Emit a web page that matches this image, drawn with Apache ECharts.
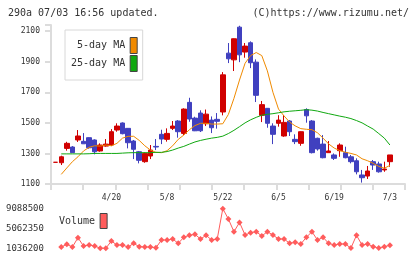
<!DOCTYPE html>
<html>
<head>
<meta charset="utf-8">
<script src="https://cdn.jsdelivr.net/npm/echarts@6/dist/echarts.min.js"></script>
<style>
html, body { margin: 0; padding: 0; background: #fff; }
#chart { width: 420px; height: 259px; }
</style>
</head>
<body>
<div id="chart"></div>
<script>
// trading days 2020/4/6 - 2020/7/3
var dates = ['4/6','4/7','4/8','4/9','4/10','4/13','4/14','4/15','4/16','4/17',
  '4/20','4/21','4/22','4/23','4/24','4/27','4/28','4/30','5/1','5/7',
  '5/8','5/11','5/12','5/13','5/14','5/15','5/18','5/19','5/20','5/21',
  '5/22','5/25','5/26','5/27','5/28','5/29','6/1','6/2','6/3','6/4',
  '6/5','6/8','6/9','6/10','6/11','6/12','6/15','6/16','6/17','6/18',
  '6/19','6/22','6/23','6/24','6/25','6/26','6/29','6/30','7/1','7/2','7/3'];

var opens = [1242,1239,1333,1342,1388,1379,1403,1388,1316,1348,
  1355,1453,1499,1464,1381,1311,1246,1283,1346,1425,
  1392,1464,1512,1431,1634,1531,1564,1494,1518,1523,
  1571,1956,1912,2126,1963,2024,1897,1549,1595,1479,
  1497,1414,1512,1392,1366,1587,1512,1399,1361,1305,
  1290,1318,1305,1278,1252,1159,1152,1246,1231,1192,1246];
var closes = [1242,1278,1366,1305,1414,1363,1337,1311,1355,1361,
  1442,1479,1429,1370,1327,1255,1300,1322,1342,1394,
  1431,1479,1442,1590,1525,1448,1448,1557,1468,1510,
  1814,1919,2050,1945,2002,1893,1680,1619,1497,1425,
  1518,1503,1442,1377,1442,1546,1305,1329,1272,1316,
  1268,1355,1272,1246,1180,1141,1185,1224,1180,1198,1290];
var lows = [1242,1224,1318,1305,1375,1363,1331,1294,1311,1344,
  1348,1442,1425,1333,1263,1235,1239,1263,1322,1361,
  1377,1453,1403,1420,1507,1446,1440,1479,1433,1462,
  1549,1891,1839,1897,1926,1858,1636,1505,1468,1361,
  1475,1409,1414,1361,1350,1501,1300,1318,1268,1305,
  1257,1278,1268,1235,1163,1109,1133,1192,1174,1180,1213];
var highs = [1242,1285,1376,1348,1453,1433,1405,1392,1366,1394,
  1459,1497,1503,1466,1388,1316,1307,1355,1394,1455,
  1464,1512,1518,1595,1664,1540,1582,1587,1542,1564,
  1832,2022,2052,2135,2022,2033,1915,1643,1597,1497,
  1550,1551,1518,1425,1444,1595,1518,1403,1420,1381,
  1300,1366,1344,1290,1268,1192,1218,1257,1246,1246,1290];

var ma5 = [null,1163,1205,1246,1278,1316,1340,1350,1348,1355,
  1350,1366,1400,1412,1412,1385,1350,1322,1307,1305,
  1318,1350,1392,1420,1455,1482,1497,1497,1492,1492,
  1494,1555,1660,1780,1890,1940,1960,1940,1840,1700,
  1590,1545,1505,1480,1462,1458,1455,1435,1400,1362,
  1335,1318,1308,1300,1290,1265,1252,1235,1215,1203,1222];
var ma25 = [null,1297,1297,1297,1297,1297,1298,1300,1300,1300,
  1300,1300,1302,1304,1305,1305,1305,1305,1307,1307,
  1312,1322,1335,1346,1361,1375,1385,1393,1400,1405,
  1413,1430,1451,1475,1500,1520,1536,1550,1556,1560,
  1566,1572,1576,1579,1582,1586,1583,1577,1568,1560,
  1552,1544,1537,1528,1515,1500,1479,1459,1430,1400,1355];

var volumes = [null,1300000,1850000,1300000,3190000,1500000,1700000,1500000,1060000,1036200,
  2520000,1700000,1700000,1300000,2050000,1360000,1300000,1300000,1160000,2720000,
  2720000,2930000,2050000,3270000,3680000,3880000,2930000,3680000,2720000,2930000,
  9088500,7000000,4410000,6300000,3740000,4210000,4410000,3540000,4410000,3740000,
  2930000,2930000,2050000,2260000,1910000,3270000,4410000,2720000,3270000,2050000,
  1700000,1910000,1910000,1080000,3680000,1700000,1910000,1360000,1100000,1360000,1650000];

var labelDates = ['4/20','5/8','5/22','6/5','6/19','7/3'];
var priceTicks = [1100, 1300, 1500, 1700, 1900, 2100];
var volumeTicks = [1036200, 5062350, 9088500];

var candles = dates.map(function (d, i) {
    return [opens[i], closes[i], lows[i], highs[i]];
});

var font = 'DejaVu Sans Mono';
var axisGray = '#dcdcdc';
var plotLeft = 52.9, plotWidth = 339.8;

var myChart = echarts.init(document.getElementById('chart'));
var option = {
    animation: false,
    backgroundColor: '#fff',
    title: [
        { text: '290a 07/03 16:56 updated.', left: 8, top: 8, padding: 0,
          textStyle: { fontFamily: font, fontSize: 10, fontWeight: 'normal', color: '#333' } },
        { text: '(C)https://www.rizumu.net/', right: 11, top: 8, padding: 0,
          textStyle: { fontFamily: font, fontSize: 10, fontWeight: 'normal', color: '#333' } }
    ],
    legend: [
        {
            data: ['5-day MA', '25-day MA'],
            orient: 'vertical',
            align: 'right',
            left: 65, top: 30,
            padding: [7, 5, 8, 6],
            itemGap: 1,
            itemWidth: 7, itemHeight: 16,
            icon: 'rect',
            selectedMode: false,
            backgroundColor: '#fff',
            borderColor: '#d8d8d8',
            borderWidth: 1,
            itemStyle: { borderColor: '#444', borderWidth: 1 },
            textStyle: { fontFamily: font, fontSize: 10, color: '#333' }
        },
        {
            data: ['Volume'],
            align: 'right',
            left: 59, top: 213,
            padding: 0,
            itemWidth: 7, itemHeight: 15,
            icon: 'rect',
            selectedMode: false,
            itemStyle: { borderColor: '#444', borderWidth: 1 },
            textStyle: { fontFamily: font, fontSize: 10, color: '#333' }
        }
    ],
    grid: [
        { left: 51, right: 15, top: 25, height: 159 },
        { left: plotLeft, width: plotWidth, top: 25, height: 159 },
        { left: plotLeft, width: plotWidth, top: 208.7, height: 39.6 }
    ],
    xAxis: [
        {
            gridIndex: 0, type: 'value', min: 0, max: 11, interval: 1,
            axisLine: { show: true, lineStyle: { color: axisGray, width: 2 } },
            axisTick: { show: true, length: 6, lineStyle: { color: axisGray, width: 2 } },
            axisLabel: { show: false },
            splitLine: { show: false }
        },
        {
            gridIndex: 1, type: 'category', data: dates,
            axisLine: { show: false },
            axisTick: { show: false },
            axisLabel: {
                interval: function (idx, value) { return labelDates.indexOf(value) >= 0; },
                fontFamily: font, fontSize: 8, color: '#333', margin: 10
            },
            splitLine: { show: false }
        },
        {
            gridIndex: 2, type: 'category', data: dates,
            show: false
        }
    ],
    yAxis: [
        {
            gridIndex: 0, type: 'value', min: 1100, max: 2140, interval: 200,
            axisLine: { show: true, lineStyle: { color: axisGray, width: 2 } },
            axisTick: { show: true, length: 6, lineStyle: { color: axisGray, width: 2 } },
            axisLabel: {
                fontFamily: font, fontSize: 8, color: '#333', margin: 11,
                formatter: function (v) { return priceTicks.indexOf(v) >= 0 ? String(v) : ''; }
            },
            splitLine: { show: false }
        },
        {
            gridIndex: 1, type: 'value', min: 1100, max: 2140, show: false
        },
        {
            gridIndex: 2, type: 'value', min: volumeTicks[0], max: volumeTicks[2],
            interval: volumeTicks[1] - volumeTicks[0],
            axisLine: { show: false },
            axisTick: { show: false },
            axisLabel: {
                fontFamily: font, fontSize: 9, color: '#333', margin: 9,
                formatter: function (v) { return String(Math.round(v)); }
            },
            splitLine: { show: false }
        }
    ],
    series: [
        {
            name: 'price', type: 'candlestick',
            xAxisIndex: 1, yAxisIndex: 1,
            data: candles,
            barWidth: 5,
            itemStyle: {
                color: '#d00000', color0: '#4040bf',
                borderColor: '#d00000', borderColor0: '#4040bf', borderWidth: 1
            }
        },
        {
            name: '5-day MA', type: 'line',
            xAxisIndex: 1, yAxisIndex: 1,
            data: ma5, symbol: 'none',
            color: '#f08a00',
            lineStyle: { width: 1, color: '#f08a00' }
        },
        {
            name: '25-day MA', type: 'line',
            xAxisIndex: 1, yAxisIndex: 1,
            data: ma25, symbol: 'none',
            color: '#10a810',
            lineStyle: { width: 1, color: '#10a810' }
        },
        {
            name: 'Volume', type: 'line',
            xAxisIndex: 2, yAxisIndex: 2,
            data: volumes,
            symbol: 'diamond', symbolSize: 6,
            showAllSymbol: true,
            color: '#ff5c5c',
            itemStyle: { color: '#ff5c5c', borderWidth: 0 },
            lineStyle: { width: 1, color: '#ff5c5c' }
        }
    ]
};
myChart.setOption(option);
</script>
</body>
</html>
